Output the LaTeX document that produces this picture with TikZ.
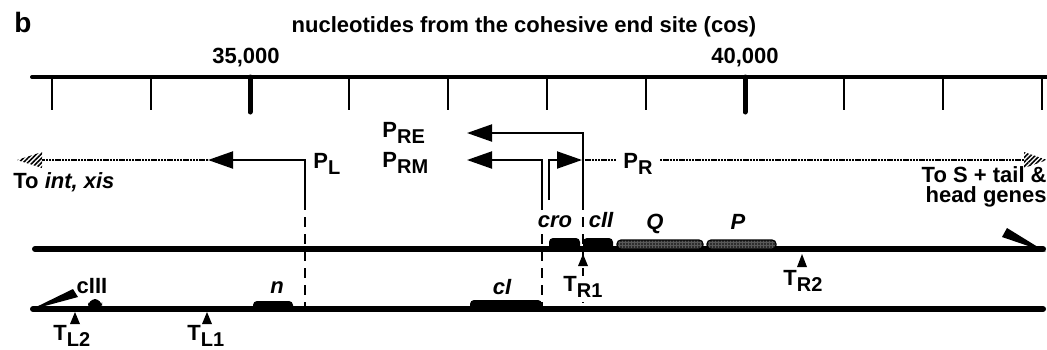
\documentclass[tikz,border=0pt]{standalone}
\usepackage{fontspec}
\setmainfont{Liberation Sans}
\usetikzlibrary{arrows.meta,patterns.meta}
\newcommand{\lsub}[1]{\raisebox{-3.4pt}{\fontsize{10}{10}\selectfont #1}}

\begin{document}
\begin{tikzpicture}[x=0.5pt,y=-0.5pt,
	lbl/.style={font=\fontsize{11}{12}\selectfont\bfseries, inner sep=0pt, anchor=base},
	gene/.style={lbl, font=\fontsize{11}{12}\selectfont\bfseries\itshape},
	prom/.style={line width=1pt},
	promarrow/.style={prom, -{Triangle[length=12.5pt,width=8.5pt]}},
	vdash/.style={line width=1pt, dash pattern=on 5pt off 3.5pt},
	dots/.style={line width=1.4pt, dash pattern=on 1.2pt off 0.4pt},
	dna/.style={line width=3pt, line cap=round},
	hatch/.style={pattern={Lines[angle=45,distance=1.6pt,line width=0.8pt]}},
	stipple/.style={draw=black, line width=0.6pt, rounded corners=2pt, fill=black!65,
		postaction={pattern={Dots[distance=1.5pt,radius=0.45pt]}}}]
	\useasboundingbox (0,0) rectangle (1047,349);

	% scale
	\node[font=\fontsize{14}{14}\selectfont\bfseries, anchor=base west, inner sep=0pt] (panel) at (14,32) {b};
	\node[lbl] (title) at (524,32) {nucleotides from the cohesive end site (cos)};
	\node[lbl] (k35) at (246,63) {35,000};
	\node[lbl] (k40) at (745,63) {40,000};
	\coordinate (r0) at (32,77);
	\coordinate (r1) at (1047,77);
	\draw[line width=2pt, line cap=round] (r0) -- (r1);
	\foreach \i in {0,1,3,4,5,6,8,9,10}
		\draw[line width=1pt] (52+99*\i,77) -- (52+99*\i,110);
	\foreach \i in {2,7}
		\draw[line width=2.5pt, line cap=round] (52+99*\i,77) -- (52+99*\i,112);

	% promoters
	\coordinate (plv) at (305,200);
	\coordinate (plc) at (305,160);
	\coordinate (pltip) at (208,160);
	\coordinate (plend) at (305,309);
	\coordinate (lhbase) at (42,160);
	\draw[promarrow] (plv) -- (plc) -- (pltip);
	\draw[vdash] (plv) -- (plend);
	\draw[dots] (pltip) -- (lhbase);
	\fill[hatch] (17,160) -- (42,152) -- (42,168) -- cycle;
	\node[lbl, anchor=base west] (pl) at (313,168) {P\lsub{L}};
	\node[lbl, anchor=base west] (toint) at (13,188) {To \textit{int, xis}};

	\coordinate (preb) at (583,200);
	\coordinate (prec) at (583,133);
	\coordinate (pretip) at (467,133);
	\coordinate (preend) at (583,303);
	\draw[promarrow] (preb) -- (prec) -- (pretip);
	\draw[vdash] (preb) -- (preend);
	\node[lbl, anchor=base west] (pre) at (382,137) {P\lsub{RE}};

	\coordinate (prmb) at (542,200);
	\coordinate (prmc) at (542,160);
	\coordinate (prmtip) at (467,160);
	\coordinate (prmend) at (542,309);
	\draw[promarrow] (prmb) -- (prmc) -- (prmtip);
	\draw[vdash] (prmb) -- (prmend);
	\node[lbl, anchor=base west] (prm) at (382,167) {P\lsub{RM}};

	\coordinate (prb) at (549,200);
	\coordinate (prc) at (549,160);
	\coordinate (prtip) at (582,160);
	\coordinate (prd1) at (617,160);
	\coordinate (prd2) at (660,160);
	\coordinate (rhbase) at (1024,160);
	\draw[promarrow] (prb) -- (prc) -- (prtip);
	\draw[dots] (prtip) -- (prd1);
	\draw[dots] (prd2) -- (rhbase);
	\fill[hatch] (1047,160) -- (1024,152) -- (1024,168) -- cycle;
	\node[lbl, anchor=base west] (pr) at (623,168) {P\lsub{R}};
	\node[lbl, font=\fontsize{11}{10}\selectfont\bfseries, align=right, anchor=north east] (tos) at (1047,166) {To S + tail \&\\head genes};

	% top strand
	\coordinate (top0) at (35,249);
	\coordinate (top1) at (1043,249);
	\draw[dna] (top0) -- (top1);
	\fill (1046,252) -- (1007,228) -- (1002,237) -- cycle;
	\fill[rounded corners=2pt] (549,250) rectangle (580,238);
	\fill[rounded corners=2pt] (583,250) rectangle (613,238);
	\path[stipple] (617,249) rectangle (703,240);
	\path[stipple] (707,249) rectangle (776,240);
	\node[gene, fill=white] (cro) at (555,227) {cro};
	\node[gene] (cii) at (601,227) {cII};
	\node[gene] (q) at (655,229) {Q};
	\node[gene] (p) at (738,229) {P};
	\fill (583,254) -- (578,266) -- (588,266) -- cycle;
	\node[lbl, fill=white, anchor=base west] (tr1) at (563,291) {T\lsub{R1}};
	\fill (802,254) -- (797,267) -- (807,267) -- cycle;
	\node[lbl, anchor=base west] (tr2) at (783,285) {T\lsub{R2}};

	% bottom strand
	\coordinate (bot0) at (33,309);
	\coordinate (bot1) at (1043,309);
	\draw[dna] (bot0) -- (bot1);
	\fill (30,310) -- (73,289) -- (78,297) -- cycle;
	\fill[rounded corners=4pt] (88,310) rectangle (102,299);
	\fill[rounded corners=2pt] (253,310) rectangle (293,301);
	\fill[rounded corners=2pt] (470,310) rectangle (542,300);
	\node[lbl] (ciii) at (92,293) {cIII};
	\node[gene] (n) at (277,293) {n};
	\node[gene] (ci) at (502,294) {cI};
	\fill (75,312) -- (70,324) -- (80,324) -- cycle;
	\node[lbl, anchor=base west] (tl2) at (53,340) {T\lsub{L2}};
	\fill (207,312) -- (202,324) -- (212,324) -- cycle;
	\node[lbl, anchor=base west] (tl1) at (187,340) {T\lsub{L1}};
\end{tikzpicture}
\end{document}
